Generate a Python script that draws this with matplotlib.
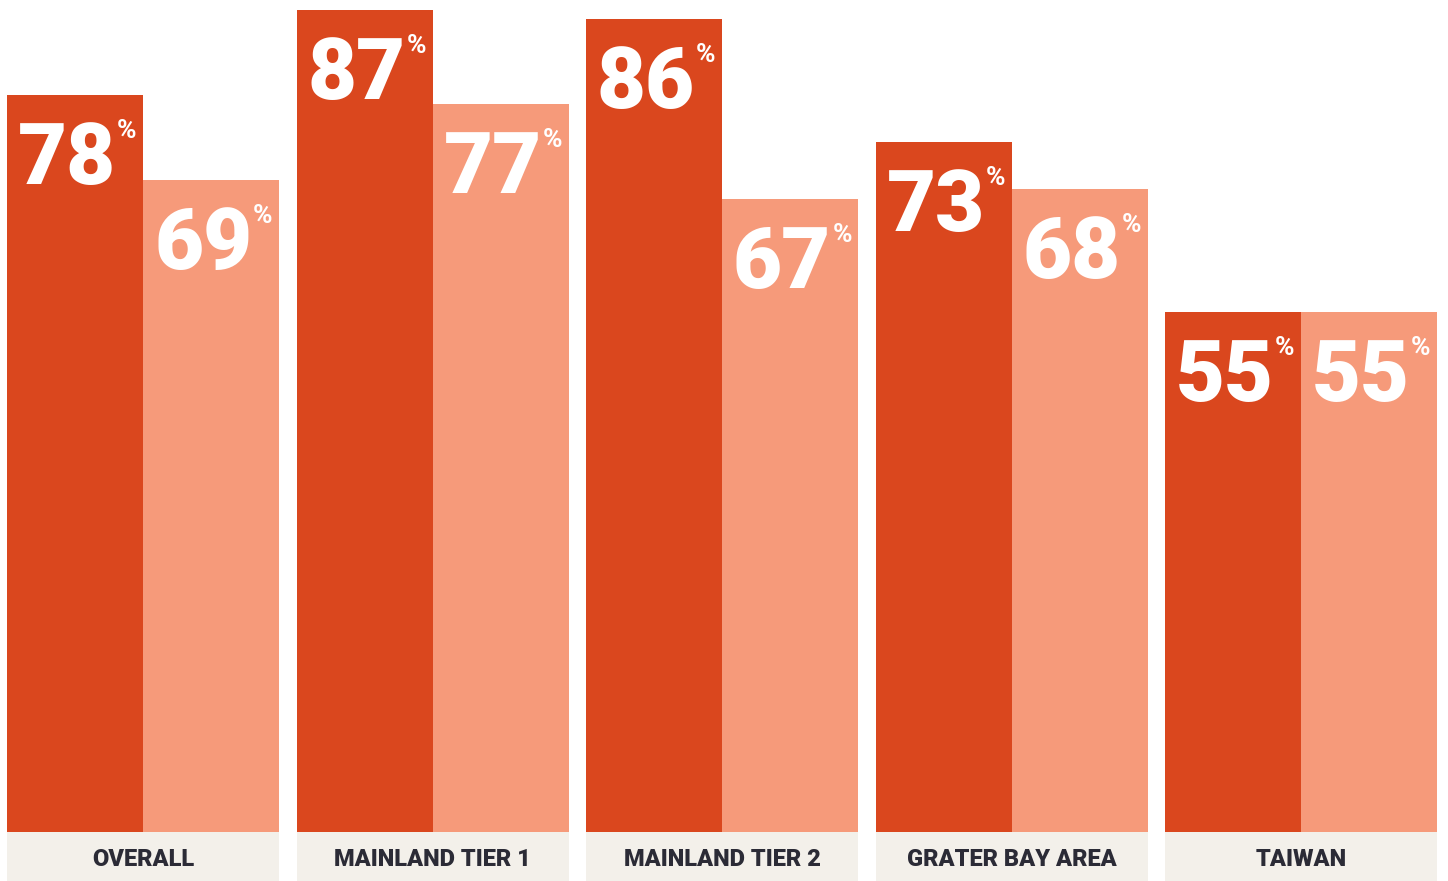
import numpy as np
import matplotlib.pyplot as plt

# data
regions = ["OVERALL", "MAINLAND TIER 1", "MAINLAND TIER 2", "GRATER BAY AREA", "TAIWAN"]
series_a = [78, 87, 86, 73, 55]   # dark
series_b = [69, 77, 67, 68, 55]   # light

dark = "#DA471E"
light = "#F69A7A"
band = "#F3F0EA"
ink = "#2B2B36"

W, H = 1448, 881
fig = plt.figure(figsize=(W / 100, H / 100), dpi=100)

base_px = 49            # height of label band in px
ax = fig.add_axes([0, base_px / H, 1, 1 - base_px / H])
axb = fig.add_axes([0, 0, 1, base_px / H])

unit = 289.5            # px per group
bw = 136 / unit
xl = (-143 / unit, (W - 143) / unit)
x = np.arange(len(regions))

ax.bar(x - bw / 2, series_a, width=bw, color=dark, linewidth=0)
ax.bar(x + bw / 2, series_b, width=bw, color=light, linewidth=0)
ax.set_xlim(*xl)
ax.set_ylim(0, 832 / 9.45)
ax.axis("off")

# label band
axb.bar(x, [1] * len(x), width=2 * bw, color=band, linewidth=0)
axb.set_xlim(*xl)
axb.set_ylim(0, 1)
axb.axis("off")
for i, r in enumerate(regions):
    axb.text(x[i], 0.43, r, ha="center", va="center", fontsize=17,
             fontweight="heavy", color=ink, family="Roboto")

def label(xleft, val):
    t = ax.annotate(str(val), xy=(xleft, val), xytext=(11, -25),
                    textcoords="offset pixels", ha="left", va="top",
                    fontsize=61, fontweight="heavy", color="white",
                    family="Roboto")
    ax.annotate("%", xy=(1, 1), xycoords=t, xytext=(1, 1),
                textcoords="offset pixels", ha="left", va="top",
                fontsize=19, fontweight="bold", color="white",
                family="Roboto")

for i in range(len(regions)):
    label(x[i] - bw, series_a[i])
    label(x[i], series_b[i])

fig.savefig("out.png", dpi=100, facecolor="white")
